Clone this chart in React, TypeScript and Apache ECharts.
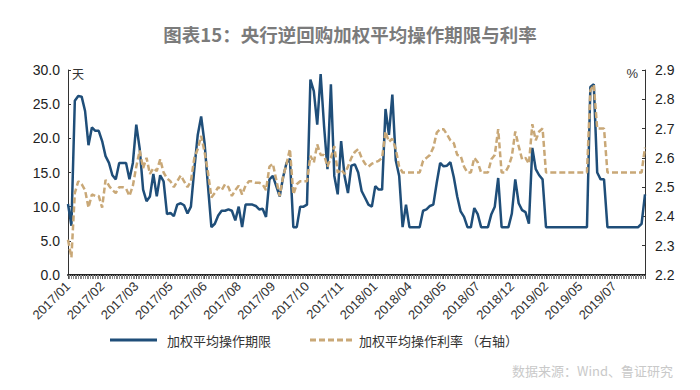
import React, { useEffect, useRef } from "react";
import * as echarts from "echarts";

const titleText = "图表15：央行逆回购加权平均操作期限与利率";
const termName = "加权平均操作期限";
const rateName = "加权平均操作利率 （右轴）";

const xTickLabels = [
  "2017/01", "2017/02", "2017/03", "2017/05", "2017/06", "2017/08", "2017/09",
  "2017/10", "2017/11", "2018/01", "2018/04", "2018/05", "2018/07", "2018/12",
  "2019/02", "2019/05", "2019/07",
];

// 加权平均操作期限 (天)
const termDays = [
  10.4, 7.2, 25.5, 26.2, 26.1, 24.0, 19.0, 21.6, 21.1, 21.1,
  19.6, 17.4, 16.4, 14.6, 14.0, 16.4, 16.4, 16.4, 14.0, 16.4,
  22.0, 18.5, 12.5, 10.8, 11.5, 14.8, 11.5, 14.6, 13.7, 8.9,
  9.1, 8.6, 10.3, 10.5, 10.2, 9.0, 10.0, 15.5, 20.5, 23.2,
  19.3, 13.0, 7.0, 7.5, 8.7, 9.4, 9.4, 9.6, 9.4, 8.0,
  10.0, 7.0, 10.3, 10.3, 10.3, 10.1, 9.6, 9.7, 8.5, 14.0,
  14.5, 13.0, 11.5, 14.3, 16.4, 17.0, 7.0, 7.0, 10.0, 10.0,
  10.3, 28.6, 26.9, 22.0, 29.4, 21.8, 15.5, 27.9, 14.5, 11.8,
  19.6, 14.5, 12.0, 16.0, 16.2, 15.0, 12.3, 11.3, 10.3, 10.0,
  13.0, 12.5, 12.5, 24.3, 20.5, 26.4, 16.8, 14.5, 7.0, 10.3,
  7.0, 7.0, 7.0, 7.0, 9.4, 9.6, 10.1, 10.3, 13.5, 16.4,
  15.9, 16.0, 16.5, 14.3, 11.5, 9.3, 8.5, 7.0, 7.0, 9.8,
  8.9, 7.0, 7.0, 7.0, 8.9, 10.0, 14.2, 7.0, 7.0, 7.0,
  9.0, 14.0, 10.5, 9.5, 9.2, 7.5, 18.6, 15.5, 14.6, 14.0,
  7.0, 7.0, 7.0, 7.0, 7.0, 7.0, 7.0, 7.0, 7.0, 7.0,
  7.0, 7.0, 7.0, 27.5, 27.9, 15.0, 14.0, 14.0, 7.0, 7.0,
  7.0, 7.0, 7.0, 7.0, 7.0, 7.0, 7.0, 7.0, 7.5, 11.8,
];

// 加权平均操作利率 (%)
const ratePct = [
  2.32, 2.26, 2.48, 2.52, 2.51, 2.49, 2.43, 2.475, 2.47, 2.47,
  2.43, 2.525, 2.505, 2.49, 2.48, 2.5, 2.5, 2.495, 2.47, 2.505,
  2.57, 2.625, 2.565, 2.6, 2.545, 2.565, 2.555, 2.595, 2.55, 2.53,
  2.52, 2.5, 2.52, 2.54, 2.52, 2.5, 2.52, 2.6, 2.63, 2.675,
  2.62, 2.55, 2.465, 2.48, 2.5, 2.49, 2.51, 2.5, 2.47, 2.49,
  2.505, 2.475, 2.505, 2.52, 2.52, 2.515, 2.515, 2.51, 2.49, 2.57,
  2.58, 2.525, 2.47, 2.535, 2.58, 2.63, 2.475, 2.51, 2.52, 2.52,
  2.52, 2.607, 2.584, 2.646, 2.61, 2.61, 2.57, 2.6, 2.64, 2.55,
  2.56, 2.545, 2.57, 2.6, 2.62, 2.63, 2.6, 2.58, 2.57, 2.58,
  2.585, 2.59, 2.6, 2.69, 2.655, 2.665, 2.63, 2.57, 2.55, 2.55,
  2.55, 2.55, 2.55, 2.55, 2.59, 2.6, 2.61, 2.635, 2.686, 2.698,
  2.698, 2.68, 2.66, 2.65, 2.61, 2.607, 2.57, 2.55, 2.55, 2.6,
  2.585, 2.55, 2.55, 2.55, 2.595, 2.61, 2.698, 2.55, 2.55, 2.57,
  2.605, 2.69, 2.64, 2.595, 2.6, 2.58, 2.715, 2.66, 2.69, 2.7,
  2.55, 2.55, 2.55, 2.55, 2.55, 2.55, 2.55, 2.55, 2.55, 2.55,
  2.55, 2.55, 2.55, 2.83, 2.85, 2.7, 2.7, 2.7, 2.55, 2.55,
  2.55, 2.55, 2.55, 2.55, 2.55, 2.55, 2.55, 2.55, 2.55, 2.635,
];

const LABEL_STEP = 10;
const TERM_COLOR = "#1F4E79";
const RATE_COLOR = "#C9A877";

export default function App() {
  const ref = useRef<HTMLDivElement>(null);

  useEffect(() => {
    if (!ref.current) return;
    const chart = echarts.init(ref.current, null, { renderer: "svg" });
    const lastIndex = termDays.length - 1;
    const legendText = {
      fontSize: 13,
      fill: "#333333",
      fontFamily: "Noto Sans CJK SC",
      verticalAlign: "middle",
    };
    const option = {
      animation: false,
      backgroundColor: "#ffffff",
      title: {
        text: titleText,
        left: "center",
        top: 20,
        textStyle: {
          fontSize: 18.5,
          fontWeight: "bold",
          color: "#7b7b7b",
          fontFamily: "Noto Sans CJK SC",
        },
      },
      grid: { left: 68, right: 55, top: 70, bottom: 115 },
      xAxis: {
        type: "value",
        min: 0,
        max: lastIndex,
        interval: LABEL_STEP,
        splitLine: { show: false },
        axisLine: { show: true, lineStyle: { color: "#222222", width: 2 } },
        axisTick: { show: true, length: 4, lineStyle: { color: "#555555" } },
        minorTick: { show: true, splitNumber: 20, length: 4, lineStyle: { color: "#888888" } },
        minorSplitLine: { show: false },
        axisLabel: {
          rotate: 45,
          fontSize: 13,
          color: "#333333",
          fontFamily: "Liberation Sans",
          margin: 9,
          showMaxLabel: false,
          formatter: (v: number) =>
            v % LABEL_STEP === 0 ? xTickLabels[v / LABEL_STEP] ?? "" : "",
        },
      },
      yAxis: [
        {
          type: "value",
          min: 0,
          max: 30,
          interval: 5,
          splitLine: { show: false },
          axisLine: { show: true, lineStyle: { color: "#333333", width: 1 } },
          axisTick: { show: true, inside: true, length: 3, lineStyle: { color: "#333333" } },
          axisLabel: {
            fontSize: 14,
            color: "#222222",
            fontFamily: "Liberation Sans",
            margin: 8,
            formatter: (v: number) => v.toFixed(1),
          },
        },
        {
          type: "value",
          position: "right",
          min: 2.2,
          max: 2.9,
          interval: 0.1,
          splitLine: { show: false },
          axisLine: { show: true, lineStyle: { color: "#333333", width: 1 } },
          axisTick: { show: true, inside: true, length: 3, lineStyle: { color: "#333333" } },
          axisLabel: {
            fontSize: 14,
            color: "#222222",
            fontFamily: "Liberation Sans",
            margin: 10,
            formatter: (v: number) => v.toFixed(1),
          },
        },
      ],
      graphic: [
        {
          type: "text",
          left: 72,
          top: 67,
          style: { text: "天", fontSize: 12, fill: "#333333", fontFamily: "Noto Sans CJK SC" },
        },
        {
          type: "text",
          right: 62,
          top: 67,
          style: { text: "%", fontSize: 13, fill: "#333333", fontFamily: "Liberation Sans" },
        },
        {
          type: "line",
          shape: { x1: 110, y1: 340, x2: 157, y2: 340 },
          style: { stroke: TERM_COLOR, lineWidth: 3 },
        },
        {
          type: "text",
          x: 167,
          y: 340,
          style: { ...legendText, text: termName },
        },
        {
          type: "line",
          shape: { x1: 310, y1: 340, x2: 353, y2: 340 },
          style: { stroke: RATE_COLOR, lineWidth: 3, lineDash: [6, 3] },
        },
        {
          type: "text",
          x: 359,
          y: 340,
          style: { ...legendText, text: rateName },
        },
        {
          type: "text",
          left: 512,
          top: 364,
          style: {
            text: "数据来源：Wind、鲁证研究",
            fontSize: 13,
            fill: "#c9c9c9",
            fontFamily: "Noto Sans CJK SC",
          },
        },
      ],
      series: [
        {
          name: termName,
          type: "line",
          yAxisIndex: 0,
          symbol: "none",
          data: termDays.map((v, i) => [i, v]),
          lineStyle: { color: TERM_COLOR, width: 2.5 },
          itemStyle: { color: TERM_COLOR },
        },
        {
          name: rateName,
          type: "line",
          yAxisIndex: 1,
          symbol: "none",
          data: ratePct.map((v, i) => [i, v]),
          lineStyle: { color: RATE_COLOR, width: 2.5, type: [6, 3] },
          itemStyle: { color: RATE_COLOR },
        },
      ],
    };
    chart.setOption(option as any);
    return () => chart.dispose();
  }, []);

  return (
    <div
      ref={ref}
      style={{ position: "fixed", left: 0, top: 0, width: 700, height: 390 }}
    />
  );
}
